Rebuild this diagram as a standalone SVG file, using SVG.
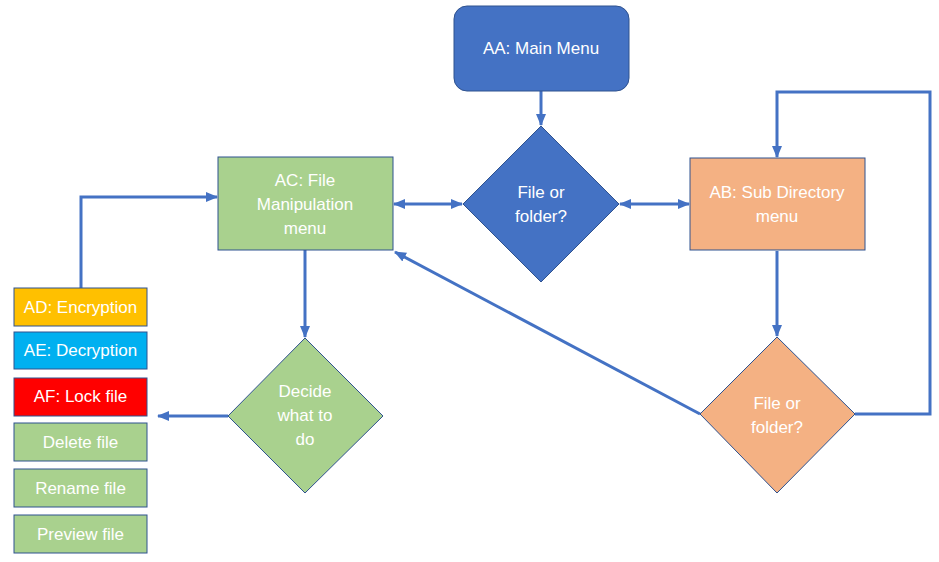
<svg xmlns="http://www.w3.org/2000/svg" width="939" height="562" viewBox="0 0 939 562">
<style>
  text { font-family: "Liberation Sans", Arial, sans-serif; font-size: 17px; fill: #ffffff; text-anchor: middle; }
  .shape { stroke: #2F528F; stroke-width: 1; }
  .blue { fill: #4472C4; }
  .green { fill: #A9D18E; }
  .orange { fill: #F4B183; }
  .yellow { fill: #FFC000; }
  .cyan { fill: #00B0F0; }
  .red { fill: #FF0000; }
  .conn { fill: none; stroke: #4472C4; stroke-width: 3; }
</style>
<defs>
  <marker id="arr" markerUnits="userSpaceOnUse" markerWidth="12" markerHeight="12" viewBox="0 0 12 12" refX="11" refY="6" orient="auto-start-reverse">
    <path d="M0,1 L12,6 L0,11 Z" fill="#4472C4"/>
  </marker>
</defs>
<g id="connectors">
  <line class="conn" x1="541" y1="91" x2="541" y2="125" marker-end="url(#arr)"/>
  <line class="conn" x1="394" y1="204" x2="462" y2="204" marker-start="url(#arr)" marker-end="url(#arr)"/>
  <line class="conn" x1="620" y1="204" x2="689" y2="204" marker-start="url(#arr)" marker-end="url(#arr)"/>
  <line class="conn" x1="777" y1="251" x2="777" y2="336" marker-end="url(#arr)"/>
  <polyline class="conn" points="855,414 930,414 930,92 777,92 777,157" marker-end="url(#arr)"/>
  <line class="conn" x1="700" y1="414" x2="395" y2="252" marker-end="url(#arr)"/>
  <line class="conn" x1="305" y1="250" x2="305" y2="337" marker-end="url(#arr)"/>
  <line class="conn" x1="228" y1="416" x2="158" y2="416" marker-end="url(#arr)"/>
  <polyline class="conn" points="81,288 81,197 217,197" marker-end="url(#arr)"/>
</g>
<g id="AA">
  <rect class="shape blue" x="454" y="6" width="175" height="85" rx="13"/>
  <text x="541" y="54">AA: Main Menu</text>
</g>
<g id="D1">
  <polygon class="shape blue" points="541,126 619,204 541,282 463,204"/>
  <text x="541" y="198">File or</text>
  <text x="541" y="222">folder?</text>
</g>
<g id="AC">
  <rect class="shape green" x="218" y="157" width="175" height="93"/>
  <text x="305" y="186">AC: File</text>
  <text x="305" y="210">Manipulation</text>
  <text x="305" y="234">menu</text>
</g>
<g id="AB">
  <rect class="shape orange" x="690" y="158" width="175" height="92"/>
  <text x="777" y="198">AB: Sub Directory</text>
  <text x="777" y="222">menu</text>
</g>
<g id="D2">
  <polygon class="shape orange" points="777,337 855,414 777,493 700,414"/>
  <text x="777" y="409">File or</text>
  <text x="777" y="433">folder?</text>
</g>
<g id="D3">
  <polygon class="shape green" points="305,338 383,416 305,493 228,416"/>
  <text x="305" y="397">Decide</text>
  <text x="305" y="421">what to</text>
  <text x="305" y="445">do</text>
</g>
<g id="AD">
  <rect class="shape yellow" x="14" y="288" width="133" height="38"/>
  <text x="80.5" y="313">AD: Encryption</text>
</g>
<g id="AE">
  <rect class="shape cyan" x="14" y="332" width="133" height="37"/>
  <text x="80.5" y="356">AE: Decryption</text>
</g>
<g id="AF">
  <rect class="shape red" x="14" y="378" width="133" height="38"/>
  <text x="80.5" y="402">AF: Lock file</text>
</g>
<g id="Delete">
  <rect class="shape green" x="14" y="423" width="133" height="38"/>
  <text x="80.5" y="448">Delete file</text>
</g>
<g id="Rename">
  <rect class="shape green" x="14" y="469" width="133" height="38"/>
  <text x="80.5" y="494">Rename file</text>
</g>
<g id="Preview">
  <rect class="shape green" x="14" y="515" width="133" height="38"/>
  <text x="80.5" y="540">Preview file</text>
</g>
</svg>
